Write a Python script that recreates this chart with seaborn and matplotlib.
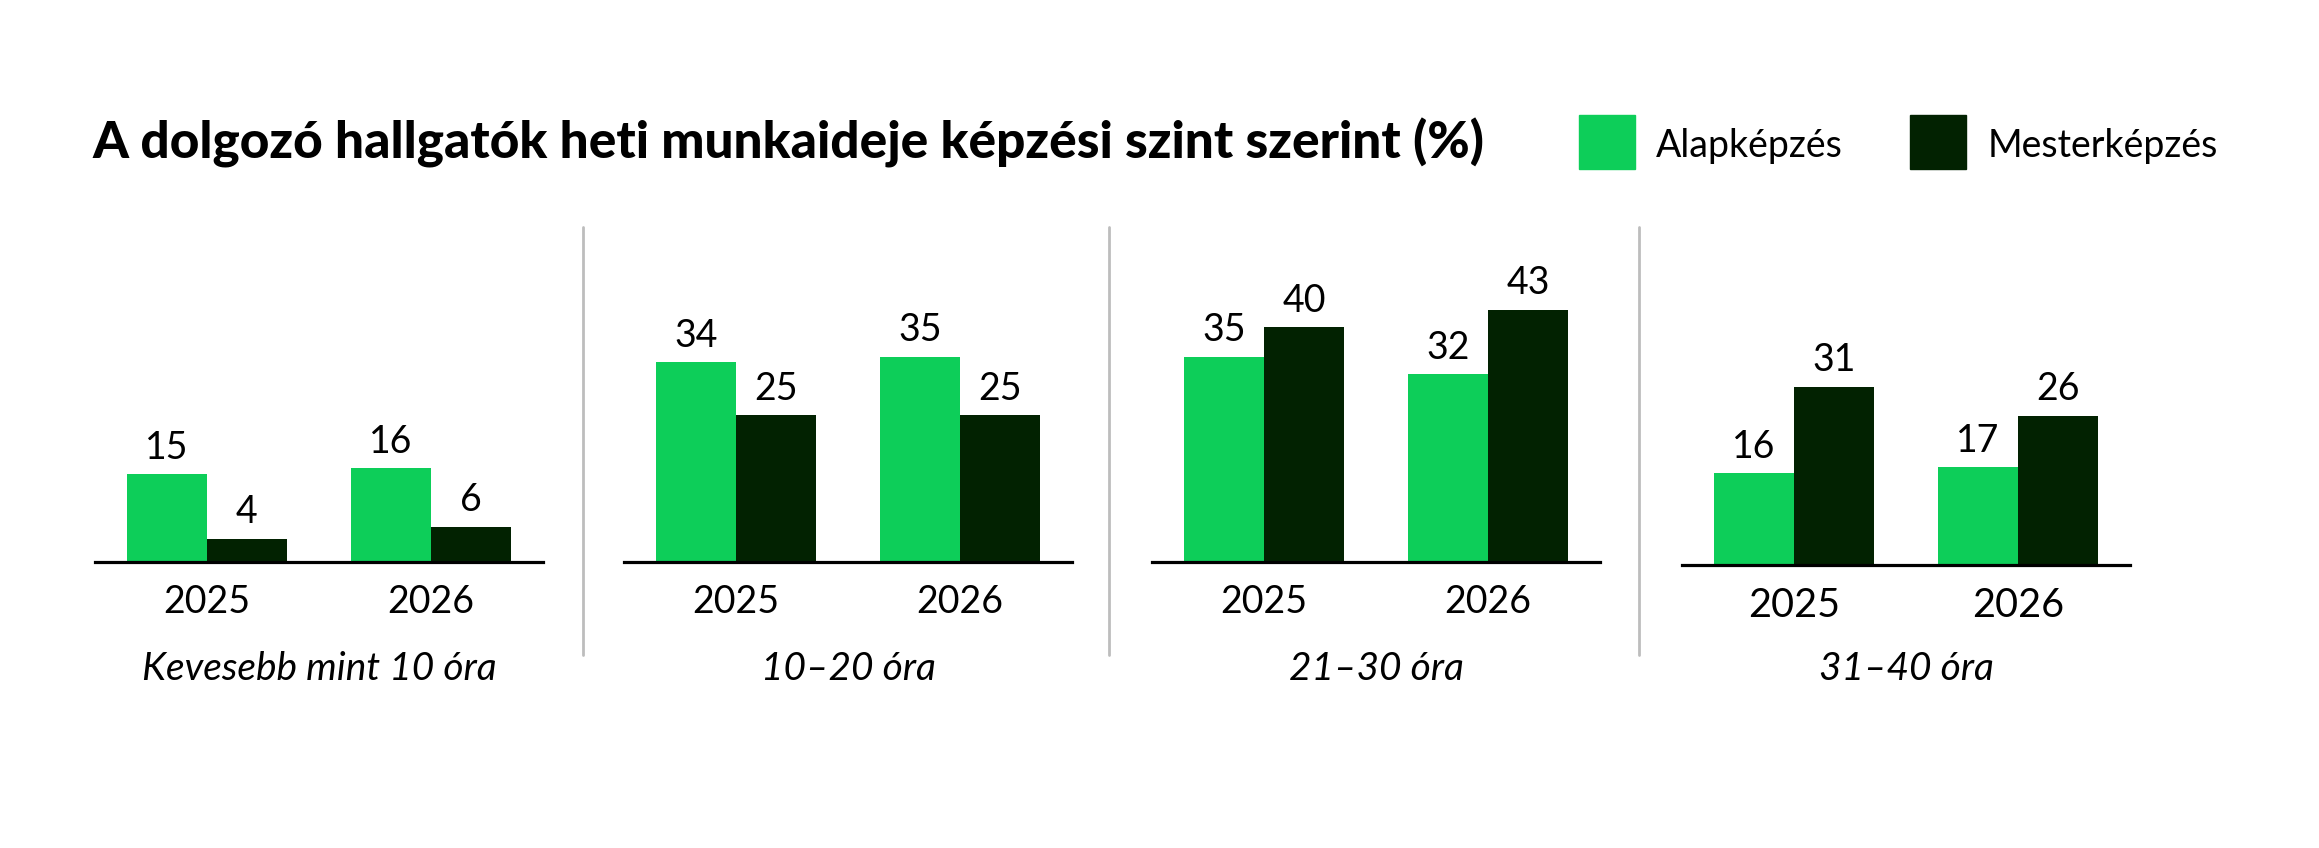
import matplotlib
matplotlib.use("Agg")
import matplotlib.pyplot as plt
from matplotlib.patches import Rectangle
from matplotlib.lines import Line2D
import pandas as pd
import seaborn as sns

# Data
categories = ['Kevesebb mint 10 óra', '10–20 óra', '21–30 óra', '31–40 óra']
years = ['2025', '2026']
series = ['Alapképzés', 'Mesterképzés']
alap_values = [[15, 16], [34, 35], [35, 32], [16, 17]]
mester_values = [[4, 6], [25, 25], [40, 43], [31, 26]]
title = 'A dolgozó hallgatók heti munkaideje képzési szint szerint (%)'

rows = []
for i, cat in enumerate(categories):
    for j, yr in enumerate(years):
        rows.append({'category': cat, 'year': yr, 'program': series[0], 'value': alap_values[i][j]})
        rows.append({'category': cat, 'year': yr, 'program': series[1], 'value': mester_values[i][j]})
df = pd.DataFrame(rows)

sns.set_style('white')
plt.rcParams['font.family'] = ['Lato', 'DejaVu Sans']
plt.rcParams['text.color'] = 'black'
plt.rcParams['xtick.color'] = 'black'

W, H = 2319, 848
fig = plt.figure(figsize=(W / 100, H / 100), dpi=100)
colors = ['#0dce59', '#022201']

# panel layout in pixels
lefts = [95, 624, 1152, 1682]
bases = [562, 562, 562, 565]
top = 227
px_per_unit = [5.87, 5.87, 5.87, 5.75]
tick_sizes = [27, 27, 27, 28.5]

for i, cat in enumerate(categories):
    ax = fig.add_axes([lefts[i] / W, 1 - bases[i] / H, 448 / W, (bases[i] - top) / H])
    sub = df[df['category'] == cat]
    sns.barplot(data=sub, x='year', y='value', hue='program', hue_order=series,
                palette=colors, width=0.714, gap=0, saturation=1, errorbar=None,
                legend=False, linewidth=0, ax=ax)
    for c in ax.containers:
        ax.bar_label(c, padding=6, fontsize=27, color='black')
    ax.set_xlim(-0.5, 1.5)
    ax.set_ylim(0, (bases[i] - top) / px_per_unit[i])
    ax.set_xlabel('')
    ax.set_ylabel('')
    ax.set_yticks([])
    for s in ['top', 'left', 'right']:
        ax.spines[s].set_visible(False)
    ax.spines['bottom'].set_linewidth(2.3)
    ax.spines['bottom'].set_color('black')
    ax.tick_params(axis='x', length=0, labelsize=tick_sizes[i], pad=16, labelcolor='black')
    fig.text((lefts[i] + 224) / W, 1 - 680 / H, cat, ha='center', va='baseline',
             style='italic', fontsize=28)

# separators between panels
for x in [583, 1109, 1639]:
    fig.add_artist(Line2D([x / W, x / W], [1 - 227 / H, 1 - 655 / H], color='#bdbdbd', lw=2))

# title
fig.text(92 / W, 1 - 158 / H, title, ha='left', va='baseline', fontsize=37, fontweight='black')

# legend
leg_box_x = [1579, 1910]
leg_text_x = [1656, 1988]
for k in range(2):
    fig.add_artist(Rectangle((leg_box_x[k] / W, 1 - 169 / H), 56 / W, 54 / H,
                             transform=fig.transFigure, color=colors[k]))
    fig.text(leg_text_x[k] / W, 1 - 157 / H, series[k], ha='left', va='baseline', fontsize=27)

fig.savefig('out.png', dpi=100)
